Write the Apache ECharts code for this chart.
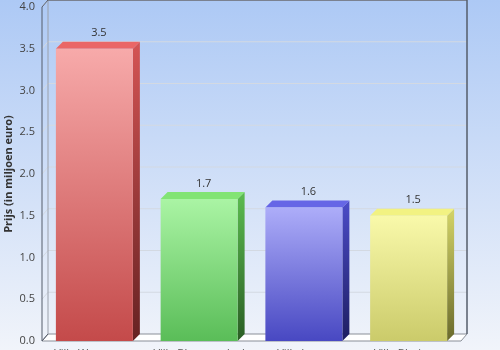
<!DOCTYPE html>
<html>
<head>
<meta charset="utf-8">
<script src="https://cdn.jsdelivr.net/npm/echarts@6/dist/echarts.min.js"></script>
<style>html,body{margin:0;padding:0;}#c{width:500px;height:350px;}</style>
</head>
<body>
<div id="c"></div>
<script>
const categories = ['Villa Wassenaar', 'Villa Bloemendaal', 'Villa Laren', 'Villa Blaricum'];
const values = [3.5, 1.7, 1.6, 1.5];
const yTicks = [0, 0.5, 1.0, 1.5, 2.0, 2.5, 3.0, 3.5, 4.0];
const yName = 'Prijs (in miljoen euro)';

const palette = [
  { front: ['#f7aaaa', '#c44a4a'], side: ['#d45454', '#662222'], top: '#ea6666' },
  { front: ['#aaf4a4', '#5abd58'], side: ['#5cbc50', '#2a5e24'], top: '#82e474' },
  { front: ['#adadf9', '#4848c2'], side: ['#4c4cc8', '#1e1e62'], top: '#6666e6' },
  { front: ['#f9f9aa', '#cbcb6a'], side: ['#d4d468', '#6a6a2c'], top: '#f2f282' }
];
const DX = 6, DY = 7, BDX = 7;

const chart = echarts.init(document.getElementById('c'));

function grad(c1, c2) {
  return new echarts.graphic.LinearGradient(0, 0, 0, 1, [{ offset: 0, color: c1 }, { offset: 1, color: c2 }]);
}

function renderFrame(params, api) {
  const cs = params.coordSys;
  const x0 = cs.x, x1 = cs.x + cs.width, y0 = cs.y, y1 = cs.y + cs.height;
  const ch = [];
  ch.push({ type: 'polygon', shape: { points: [[x0, y1], [x1, y1], [x1 + DX, y1 - DY], [x0 + DX, y1 - DY]] },
    style: { fill: '#ffffff', stroke: '#8a8f98', lineWidth: 1 } });
  yTicks.forEach(function (v) {
    const y = api.coord([0, v])[1];
    if (v > 0) {
      ch.push({ type: 'line', shape: { x1: x0 + DX, y1: y - DY, x2: x1 + DX, y2: y - DY },
        style: { stroke: '#d3d9e2', lineWidth: 1 } });
      ch.push({ type: 'line', shape: { x1: x0, y1: y, x2: x0 + DX, y2: y - DY },
        style: { stroke: '#d3d9e2', lineWidth: 1 } });
    }
  });
  ch.push({ type: 'line', shape: { x1: x0 + DX, y1: y0 - DY, x2: x0 + DX, y2: y1 - DY },
    style: { stroke: '#9aa0aa', lineWidth: 1 } });
  ch.push({ type: 'line', shape: { x1: x0 + DX, y1: y0 - DY + 0.5, x2: x1 + DX, y2: y0 - DY + 0.5 },
    style: { stroke: '#7a8190', lineWidth: 1 } });
  ch.push({ type: 'line', shape: { x1: x1 + DX, y1: y0 - DY, x2: x1 + DX, y2: y1 - DY },
    style: { stroke: '#555c6a', lineWidth: 1.5 } });
  ch.push({ type: 'line', shape: { x1: x0, y1: y0, x2: x0 + DX, y2: y0 - DY },
    style: { stroke: '#555c6a', lineWidth: 1 } });
  ch.push({ type: 'line', shape: { x1: x0, y1: y0, x2: x0, y2: y1 },
    style: { stroke: '#555c6a', lineWidth: 1 } });
  ch.push({ type: 'line', shape: { x1: x0, y1: y1, x2: x0 + DX, y2: y1 - DY },
    style: { stroke: '#555c6a', lineWidth: 1 } });
  return { type: 'group', children: ch };
}

function renderBar(params, api) {
  const idx = params.dataIndex;
  const cat = api.value(0), val = api.value(1);
  const top = api.coord([cat, val]);
  const base = api.coord([cat, 0]);
  const w = api.size([1, 0])[0] * 0.735;
  const xl = top[0] - w / 2, xr = top[0] + w / 2;
  const yt = top[1], yb = base[1];
  const p = palette[idx];
  return {
    type: 'group',
    children: [
      { type: 'polygon', shape: { points: [[xr, yt], [xr + BDX, yt - DY], [xr + BDX, yb - DY], [xr, yb]] },
        style: { fill: grad(p.side[0], p.side[1]) } },
      { type: 'polygon', shape: { points: [[xl, yt], [xl + BDX, yt - DY], [xr + BDX, yt - DY], [xr, yt]] },
        style: { fill: p.top } },
      { type: 'rect', shape: { x: xl, y: yt, width: w, height: yb - yt },
        style: { fill: grad(p.front[0], p.front[1]) } },
      { type: 'text', x: top[0] + BDX / 2 + 1, y: yt - DY - 3,
        style: { text: val.toFixed(1), fill: '#333', font: '11px "Open Sans", sans-serif', align: 'center', verticalAlign: 'bottom' } }
    ]
  };
}

chart.setOption({
  backgroundColor: new echarts.graphic.LinearGradient(0, 0, 0, 1, [
    { offset: 0, color: '#adc9f5' },
    { offset: 1, color: '#f1f4fa' }
  ]),
  animation: false,
  grid: { left: 42, right: 39, top: 7, bottom: 9, containLabel: false, outerBoundsMode: 'none' },
  xAxis: {
    type: 'category', data: categories,
    axisLine: { show: false }, axisTick: { show: false },
    axisLabel: { margin: 7, interval: 0, hideOverlap: false, color: '#555', fontSize: 11, fontFamily: 'Open Sans' }
  },
  yAxis: {
    type: 'value', min: 0, max: 4, interval: 0.5,
    name: yName, nameLocation: 'middle', nameGap: 28, nameMoveOverlap: false,
    nameTextStyle: { fontSize: 11, fontWeight: 'bold', color: '#333', fontFamily: 'Open Sans' },
    axisLine: { show: false }, axisTick: { show: false }, splitLine: { show: false },
    axisLabel: { margin: 7, color: '#444', fontSize: 11, fontFamily: 'Open Sans',
      formatter: function (v) { return v.toFixed(1); } }
  },
  series: [
    { type: 'custom', renderItem: renderFrame, data: [[0, 0]], z: 1, silent: true },
    { type: 'custom', renderItem: renderBar, data: values.map(function (v, i) { return [i, v]; }), z: 2 }
  ]
});
</script>
</body>
</html>
